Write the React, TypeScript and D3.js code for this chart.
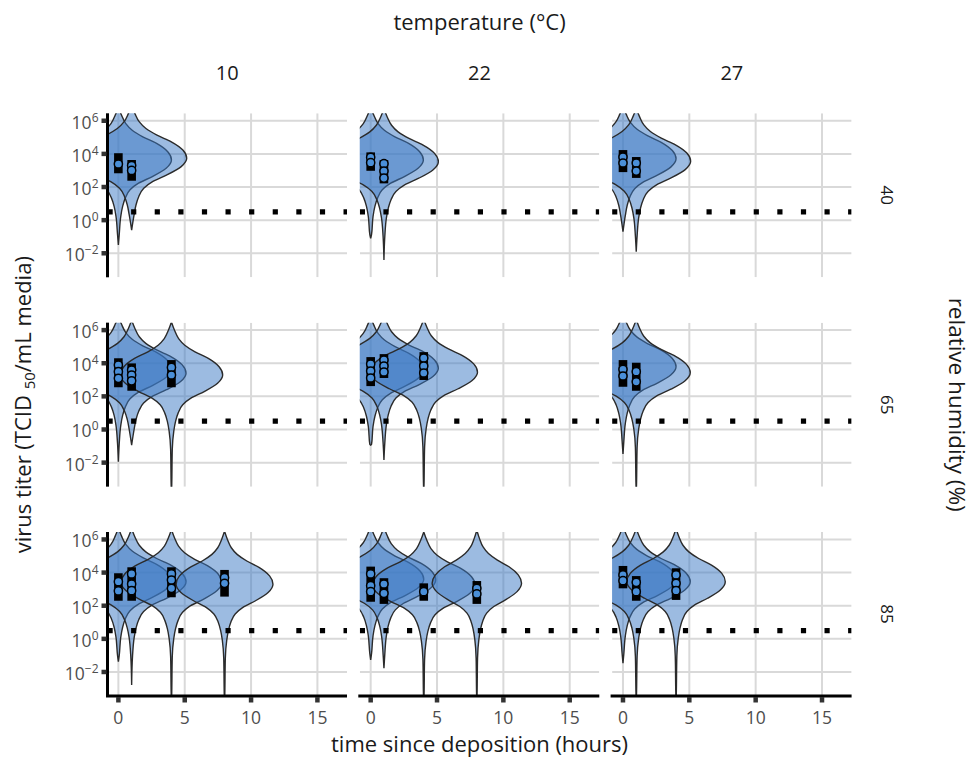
import * as d3 from "d3";

const temperatures = ["10", "22", "27"];
const humidities = ["40", "65", "85"];
const xTicks = [0, 5, 10, 15];
const yTicks = [-2, 0, 2, 4, 6];
const detectionLimit = 0.5;

// posterior shape: offset from the mode (log10 units) and relative half-width
const violinProfile: [number, number][] = [
  [3.2, 0], [2.7, 0.06], [2.2, 0.14], [1.8, 0.26], [1.4, 0.46], [1.0, 0.72],
  [0.5, 0.93], [0, 1], [-0.5, 0.9], [-1.0, 0.64], [-1.4, 0.38], [-1.8, 0.22],
  [-2.3, 0.13], [-2.8, 0.08], [-3.4, 0.045], [-4.5, 0.016], [-6.6, 0.006], [-9, 0.004],
];

// row = humidity index, col = temperature index, t = hours, peak = log10 mode,
// w = max half-width (hours), tail = lowest log10 reached
const violins = [
  { row: 0, col: 0, t: 0, peak: 3.63, w: 4.0, tail: -1.5 },
  { row: 0, col: 0, t: 1, peak: 3.73, w: 4.15, tail: -0.6 },
  { row: 0, col: 1, t: 0, peak: 3.63, w: 3.97, tail: -1.1 },
  { row: 0, col: 1, t: 1, peak: 3.53, w: 4.1, tail: -2.4 },
  { row: 0, col: 2, t: 0, peak: 3.7, w: 4.0, tail: -0.7 },
  { row: 0, col: 2, t: 1, peak: 3.55, w: 4.1, tail: -1.9 },

  { row: 1, col: 0, t: 0, peak: 3.65, w: 4.0, tail: -1.94 },
  { row: 1, col: 0, t: 1, peak: 3.4, w: 4.1, tail: -0.94 },
  { row: 1, col: 0, t: 4, peak: 3.29, w: 3.86, tail: -4 },
  { row: 1, col: 1, t: 0, peak: 3.6, w: 4.0, tail: -0.95 },
  { row: 1, col: 1, t: 1, peak: 3.7, w: 4.1, tail: -1.84 },
  { row: 1, col: 1, t: 4, peak: 3.46, w: 4.05, tail: -4 },
  { row: 1, col: 2, t: 0, peak: 3.79, w: 4.0, tail: -1.48 },
  { row: 1, col: 2, t: 1, peak: 3.43, w: 4.07, tail: -4 },

  { row: 2, col: 0, t: 0, peak: 3.5, w: 4.0, tail: -1.38 },
  { row: 2, col: 0, t: 1, peak: 3.45, w: 4.1, tail: -2.78 },
  { row: 2, col: 0, t: 4, peak: 3.4, w: 3.8, tail: -4 },
  { row: 2, col: 0, t: 8, peak: 3.3, w: 3.65, tail: -4 },
  { row: 2, col: 1, t: 0, peak: 3.6, w: 4.0, tail: -1.27 },
  { row: 2, col: 1, t: 1, peak: 3.55, w: 3.9, tail: -1.78 },
  { row: 2, col: 1, t: 4, peak: 3.25, w: 3.87, tail: -4 },
  { row: 2, col: 1, t: 8, peak: 3.35, w: 3.37, tail: -4 },
  { row: 2, col: 2, t: 0, peak: 3.6, w: 4.0, tail: -1.47 },
  { row: 2, col: 2, t: 1, peak: 3.45, w: 4.07, tail: -4 },
  { row: 2, col: 2, t: 4, peak: 3.45, w: 3.71, tail: -4 },
];

// measured titers: interval (lo, hi) and point estimates, log10 TCID50/mL
const titers = [
  { row: 0, col: 0, t: 0, lo: 2.83, hi: 4.04, vals: [3.39] },
  { row: 0, col: 0, t: 1, lo: 2.38, hi: 3.63, vals: [3.3, 3.0] },
  { row: 0, col: 1, t: 0, lo: 2.98, hi: 4.09, vals: [3.79, 3.47] },
  { row: 0, col: 1, t: 1, lo: 2.22, hi: 3.63, vals: [3.41, 2.96, 2.54] },
  { row: 0, col: 2, t: 0, lo: 2.9, hi: 4.23, vals: [3.81, 3.45] },
  { row: 0, col: 2, t: 1, lo: 2.55, hi: 3.81, vals: [3.45, 2.96] },

  { row: 1, col: 0, t: 0, lo: 2.55, hi: 4.3, vals: [3.89, 3.49, 3.09] },
  { row: 1, col: 0, t: 1, lo: 2.34, hi: 3.99, vals: [3.59, 3.29, 2.94] },
  { row: 1, col: 0, t: 4, lo: 2.55, hi: 4.19, vals: [3.75, 3.29] },
  { row: 1, col: 1, t: 0, lo: 2.62, hi: 4.37, vals: [3.95, 3.53, 3.11] },
  { row: 1, col: 1, t: 1, lo: 3.11, hi: 4.55, vals: [4.19, 3.83, 3.47] },
  { row: 1, col: 1, t: 4, lo: 2.99, hi: 4.67, vals: [4.31, 3.83, 3.41] },
  { row: 1, col: 2, t: 0, lo: 2.58, hi: 4.19, vals: [3.63, 3.23] },
  { row: 1, col: 2, t: 1, lo: 2.34, hi: 4.03, vals: [3.49, 2.88] },

  { row: 2, col: 0, t: 0, lo: 2.3, hi: 3.96, vals: [3.45, 2.89] },
  { row: 2, col: 0, t: 1, lo: 2.3, hi: 4.32, vals: [3.92, 3.31, 2.91] },
  { row: 2, col: 0, t: 4, lo: 2.51, hi: 4.32, vals: [3.92, 3.55, 3.05] },
  { row: 2, col: 0, t: 8, lo: 2.55, hi: 4.16, vals: [3.69, 3.35] },
  { row: 2, col: 1, t: 0, lo: 2.24, hi: 4.36, vals: [3.92, 3.21, 2.85] },
  { row: 2, col: 1, t: 1, lo: 2.11, hi: 3.66, vals: [3.31, 2.75] },
  { row: 2, col: 1, t: 4, lo: 2.3, hi: 3.35, vals: [2.85] },
  { row: 2, col: 1, t: 8, lo: 2.11, hi: 3.49, vals: [3.05, 2.71] },
  { row: 2, col: 2, t: 0, lo: 3.05, hi: 4.4, vals: [3.86, 3.51] },
  { row: 2, col: 2, t: 1, lo: 2.3, hi: 3.79, vals: [3.41, 2.85] },
  { row: 2, col: 2, t: 4, lo: 2.35, hi: 4.26, vals: [3.86, 3.35, 2.91] },
];

const W = 974;
const H = 762;
const panelW = 239.5;
const panelH = 164;
const panelLeft = (c: number) => 107.5 + c * 252.3;
const panelTop = (r: number) => 113.3 + r * 209.35;
const font = "'Open Sans', 'DejaVu Sans', sans-serif";

type Pt = { L: number; rel: number };

function Panel({ r, c }: { r: number; c: number }) {
  const left = panelLeft(c);
  const top = panelTop(r);
  const x = d3.scaleLinear().domain([-0.82, 17.23]).range([left, left + panelW]);
  const y = d3.scaleLinear().domain([-3.45, 6.45]).range([top + panelH, top]);
  const pxh = x(1) - x(0);
  const vs = violins.filter(v => v.row === r && v.col === c);
  const ts = titers.filter(d => d.row === r && d.col === c);
  const clipId = `clip-${r}-${c}`;

  return (
    <g>
      <defs>
        <clipPath id={clipId}>
          <rect x={left} y={top} width={panelW} height={panelH} />
        </clipPath>
      </defs>
      <g clipPath={`url(#${clipId})`}>
        {xTicks.map(t => (
          <line key={'gx' + t} x1={x(t)} x2={x(t)} y1={top} y2={top + panelH} stroke="#d9d9d9" strokeWidth={2} />
        ))}
        {yTicks.map(t => (
          <line key={'gy' + t} x1={left} x2={left + panelW} y1={y(t)} y2={y(t)} stroke="#d9d9d9" strokeWidth={2} />
        ))}
        {vs.map((v, i) => {
          const pts: Pt[] = [];
          for (const [off, rel] of violinProfile) {
            const L = v.peak + off;
            if (L <= v.tail) {
              pts.push({ L: v.tail, rel: 0 });
              break;
            }
            pts.push({ L, rel });
          }
          const area = d3
            .area<Pt>()
            .y(d => y(d.L))
            .x0(d => x(v.t) - d.rel * v.w * pxh)
            .x1(d => x(v.t) + d.rel * v.w * pxh)
            .curve(d3.curveMonotoneY);
          return (
            <path key={'v' + i} d={area(pts) || ''} fill="#3a78c4" fillOpacity={0.5} stroke="#2b2b2b" strokeWidth={1.4} />
          );
        })}
        <line
          x1={left}
          x2={left + panelW}
          y1={y(detectionLimit)}
          y2={y(detectionLimit)}
          stroke="#000"
          strokeWidth={5.2}
          strokeDasharray="5.2 18.4"
        />
      </g>
      {ts.map((d, i) => (
        <g key={'t' + i}>
          <rect x={x(d.t) - 4.3} width={8.6} y={y(d.hi)} height={y(d.lo) - y(d.hi)} fill="#000" />
          {d.vals.map((v, k) => (
            <circle key={k} cx={x(d.t)} cy={y(v)} r={4.1} fill="#4a8fd8" stroke="#000" strokeWidth={1.5} />
          ))}
        </g>
      ))}
      {c === 0 && (
        <g>
          <line x1={left} x2={left} y1={top} y2={top + panelH} stroke="#000" strokeWidth={3} />
          {yTicks.map(t => (
            <g key={'ty' + t}>
              <line x1={left - 6} x2={left - 1} y1={y(t)} y2={y(t)} stroke="#333" strokeWidth={4.5} />
              <text x={left - 9} y={y(t) + 8} textAnchor="end" fontSize={17.5} fill="#4d4d4d">
                10
                <tspan dy={-7} fontSize={12}>
                  {t < 0 ? '\u2212' + Math.abs(t) : String(t)}
                </tspan>
              </text>
            </g>
          ))}
        </g>
      )}
      {r === humidities.length - 1 && (
        <g>
          <line x1={left - 1.5} x2={left + panelW} y1={top + panelH} y2={top + panelH} stroke="#000" strokeWidth={3} />
          {xTicks.map(t => (
            <g key={'tx' + t}>
              <line x1={x(t)} x2={x(t)} y1={top + panelH + 1} y2={top + panelH + 6.5} stroke="#333" strokeWidth={4.5} />
              <text x={x(t)} y={top + panelH + 28} textAnchor="middle" fontSize={17.5} fill="#4d4d4d">
                {t}
              </text>
            </g>
          ))}
        </g>
      )}
    </g>
  );
}

export default function App() {
  const midX = panelLeft(0) + (panelLeft(2) + panelW - panelLeft(0)) / 2;
  const midY = panelTop(0) + (panelTop(2) + panelH - panelTop(0)) / 2;
  return (
    <div style={{ position: 'absolute', left: 0, top: 0 }}>
      <svg width={W} height={H} style={{ display: 'block', background: '#fff' }} fontFamily={font}>
        <text x={midX} y={29.5} textAnchor="middle" fontSize={22} fill="#1a1a1a">
          temperature (°C)
        </text>
        {temperatures.map((t, c) => (
          <text key={t} x={panelLeft(c) + panelW / 2} y={79.5} textAnchor="middle" fontSize={20} fill="#1a1a1a">
            {t}
          </text>
        ))}
        {humidities.map((h, r) => (
          <text
            key={h}
            transform={`translate(887,${panelTop(r) + panelH / 2}) rotate(90)`}
            textAnchor="middle"
            dominantBaseline="central"
            fontSize={17}
            fill="#1a1a1a"
          >
            {h}
          </text>
        ))}
        <text
          transform={`translate(949,${midY}) rotate(90)`}
          textAnchor="middle"
          fontSize={22.5}
          fill="#1a1a1a"
        >
          relative humidity (%)
        </text>
        <text transform={`translate(31,${midY}) rotate(-90)`} textAnchor="middle" fontSize={22} fill="#1a1a1a">
          virus titer (TCID{'\u00a0'}
          <tspan fontSize={15} dy={4}>50</tspan>
          <tspan dy={-4}>/mL media)</tspan>
        </text>
        <text x={midX} y={752} textAnchor="middle" fontSize={22} fill="#1a1a1a">
          time since deposition (hours)
        </text>
        {humidities.map((h, r) => temperatures.map((t, c) => <Panel key={h + t} r={r} c={c} />))}
      </svg>
    </div>
  );
}
